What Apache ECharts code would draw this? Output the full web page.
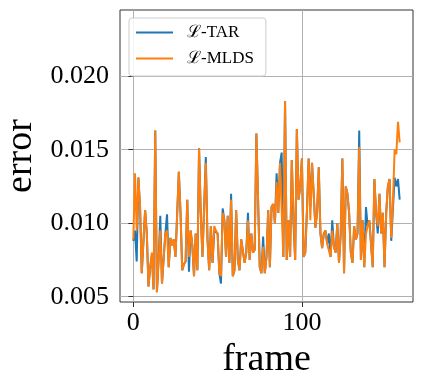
<!DOCTYPE html>
<html>
<head>
<meta charset="utf-8">
<script src="https://cdn.jsdelivr.net/npm/echarts@6/dist/echarts.min.js"></script>
<style>
  html, body { margin: 0; padding: 0; background: #fff; }
  #chart { width: 423px; height: 386px; }
</style>
</head>
<body>
<div id="chart"></div>
<script>
// per-frame error
var tarError = [
  0.0088, 0.0095, 0.0074, 0.0131, 0.0111, 0.0066, 0.0066, 0.0109, 0.0093, 0.0057,
  0.0070, 0.0078, 0.0055, 0.0163, 0.0053, 0.0075, 0.0105, 0.0059, 0.0060, 0.0093,
  0.0106, 0.0070, 0.0090, 0.0085, 0.0089, 0.0077, 0.0078, 0.0135, 0.0107, 0.0068,
  0.0072, 0.0074, 0.0116, 0.0067, 0.0095, 0.0085, 0.0064, 0.0093, 0.0068, 0.0151,
  0.0107, 0.0077, 0.0078, 0.0145, 0.0089, 0.0068, 0.0098, 0.0073, 0.0095, 0.0095,
  0.0093, 0.0066, 0.0059, 0.0110, 0.0102, 0.0077, 0.0105, 0.0073, 0.0120, 0.0064,
  0.0068, 0.0109, 0.0075, 0.0068, 0.0089, 0.0089, 0.0073, 0.0080, 0.0107, 0.0075,
  0.0093, 0.0080, 0.0082, 0.0161, 0.0116, 0.0070, 0.0066, 0.0091, 0.0066, 0.0077,
  0.0109, 0.0070, 0.0111, 0.0113, 0.0100, 0.0134, 0.0107, 0.0141, 0.0148, 0.0077,
  0.0183, 0.0075, 0.0102, 0.0077, 0.0143, 0.0100, 0.0075, 0.0164, 0.0116, 0.0125,
  0.0144, 0.0077, 0.0080, 0.0109, 0.0144, 0.0111, 0.0141, 0.0120, 0.0097, 0.0107,
  0.0138, 0.0093, 0.0083, 0.0093, 0.0095, 0.0086, 0.0093, 0.0077, 0.0102, 0.0084,
  0.0080, 0.0100, 0.0073, 0.0092, 0.0144, 0.0066, 0.0125, 0.0120, 0.0107, 0.0080,
  0.0073, 0.0098, 0.0089, 0.0093, 0.0163, 0.0075, 0.0102, 0.0070, 0.0111, 0.0098,
  0.0102, 0.0101, 0.0070, 0.0130, 0.0107, 0.0093, 0.0120, 0.0093, 0.0107, 0.0070,
  0.0107, 0.0125, 0.0130, 0.0088, 0.0110, 0.0131, 0.0125, 0.0130, 0.0116
]
var mldsError = [
  0.0089, 0.0134, 0.0095, 0.0131, 0.0111, 0.0066, 0.0066, 0.0109, 0.0093, 0.0057,
  0.0070, 0.0080, 0.0055, 0.0163, 0.0053, 0.0075, 0.0095, 0.0059, 0.0060, 0.0093,
  0.0095, 0.0070, 0.0090, 0.0085, 0.0089, 0.0077, 0.0078, 0.0135, 0.0107, 0.0068,
  0.0072, 0.0074, 0.0116, 0.0077, 0.0095, 0.0085, 0.0064, 0.0093, 0.0068, 0.0151,
  0.0107, 0.0077, 0.0078, 0.0141, 0.0089, 0.0068, 0.0098, 0.0073, 0.0098, 0.0095,
  0.0093, 0.0066, 0.0064, 0.0107, 0.0102, 0.0077, 0.0105, 0.0073, 0.0116, 0.0064,
  0.0068, 0.0109, 0.0075, 0.0068, 0.0089, 0.0089, 0.0073, 0.0080, 0.0102, 0.0075,
  0.0093, 0.0080, 0.0082, 0.0161, 0.0116, 0.0070, 0.0066, 0.0084, 0.0066, 0.0077,
  0.0109, 0.0070, 0.0111, 0.0113, 0.0100, 0.0128, 0.0107, 0.0141, 0.0141, 0.0077,
  0.0183, 0.0075, 0.0102, 0.0077, 0.0143, 0.0107, 0.0075, 0.0164, 0.0116, 0.0125,
  0.0144, 0.0077, 0.0080, 0.0109, 0.0144, 0.0102, 0.0141, 0.0120, 0.0097, 0.0107,
  0.0138, 0.0093, 0.0083, 0.0093, 0.0095, 0.0086, 0.0086, 0.0077, 0.0095, 0.0084,
  0.0080, 0.0100, 0.0073, 0.0092, 0.0144, 0.0066, 0.0125, 0.0120, 0.0107, 0.0080,
  0.0073, 0.0098, 0.0089, 0.0093, 0.0152, 0.0075, 0.0102, 0.0070, 0.0093, 0.0098,
  0.0102, 0.0101, 0.0070, 0.0130, 0.0107, 0.0098, 0.0120, 0.0093, 0.0107, 0.0070,
  0.0107, 0.0125, 0.0130, 0.0090, 0.0115, 0.0150, 0.0147, 0.0169, 0.0155
]
var xTicks = [0, 100]
var yTicks = [0.005, 0.010, 0.015, 0.020]

var serif = '"Liberation Serif", "DejaVu Serif", serif'

function pairs (vals) {
  return vals.map(function (v, i) { return [i, v] })
}

var chart = echarts.init(document.getElementById('chart'), null, { renderer: 'canvas' })
chart.setOption({
  animation: false,
  grid: {
    left: 120,
    right: 10,
    top: 10,
    bottom: 84,
    outerBoundsMode: 'none',
    containLabel: false,
    show: true,
    borderColor: '#333',
    borderWidth: 1,
    backgroundColor: 'transparent'
  },
  legend: {
    orient: 'vertical',
    left: 129,
    top: 18,
    icon: 'rect',
    itemWidth: 37,
    itemHeight: 2,
    itemGap: 9,
    padding: [6, 12, 9, 7],
    backgroundColor: 'rgba(255,255,255,0.85)',
    borderColor: '#ccc',
    borderWidth: 1,
    borderRadius: 3,
    textStyle: {
      fontFamily: serif,
      fontSize: 17,
      color: '#000',
      padding: [0, 0, 0, 9]
    },
    data: ['ℒ-TAR', 'ℒ-MLDS']
  },
  xAxis: {
    type: 'value',
    min: -7.9,
    max: 165.9,
    name: 'frame',
    nameLocation: 'middle',
    nameGap: 36,
    nameTextStyle: { fontFamily: serif, fontSize: 38, color: '#000' },
    axisLine: { show: false },
    axisTick: { show: true, inside: false, length: 5, customValues: xTicks, lineStyle: { color: '#333' } },
    axisLabel: { customValues: xTicks, margin: 8, fontFamily: serif, fontSize: 26, color: '#000' },
    splitLine: { show: true, customValues: xTicks, lineStyle: { color: '#b0b0b0', width: 1 } }
  },
  yAxis: {
    type: 'value',
    min: 0.00464,
    max: 0.0245,
    name: 'error',
    nameLocation: 'middle',
    nameGap: 74,
    nameRotate: 90,
    nameTextStyle: { fontFamily: serif, fontSize: 38, color: '#000' },
    axisLine: { show: false },
    axisTick: { show: true, inside: false, length: 5, customValues: yTicks, lineStyle: { color: '#333' } },
    axisLabel: {
      customValues: yTicks,
      margin: 11,
      fontFamily: serif,
      fontSize: 26,
      color: '#000',
      formatter: function (v) { return v.toFixed(3) }
    },
    splitLine: { show: true, customValues: yTicks, lineStyle: { color: '#b0b0b0', width: 1 } }
  },
  series: [
    {
      name: 'ℒ-TAR',
      type: 'line',
      data: pairs(tarError),
      showSymbol: false,
      color: '#1f77b4',
      lineStyle: { width: 2, color: '#1f77b4' }
    },
    {
      name: 'ℒ-MLDS',
      type: 'line',
      data: pairs(mldsError),
      showSymbol: false,
      color: '#ff7f0e',
      lineStyle: { width: 2, color: '#ff7f0e' }
    }
  ]
})
</script>
</body>
</html>
